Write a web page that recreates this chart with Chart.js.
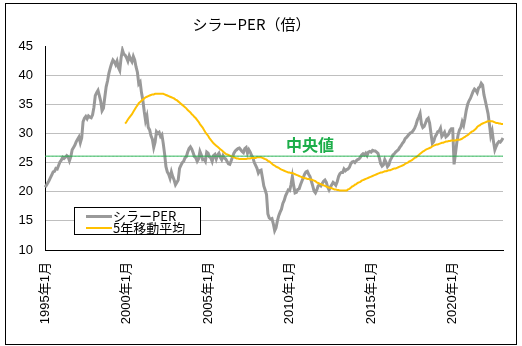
<!DOCTYPE html>
<html>
<head>
<meta charset="utf-8">
<script src="https://cdn.jsdelivr.net/npm/chart.js@4/dist/chart.umd.min.js"></script>
<style>
    html, body { margin: 0; padding: 0; background: #fff; }
    #wrap { position: relative; width: 522px; height: 346px; }
    #frame { position: absolute; left: 5px; top: 3px; width: 512px; height: 342px; box-sizing: border-box; border: 1px solid #000; pointer-events: none; }
    #legend { position: absolute; left: 74px; top: 207px; width: 127px; height: 28px; box-sizing: border-box; border: 1px solid #000; background: #fff; font: 13px 'Noto Sans CJK JP', sans-serif; color: #000; }
    #legend .swatch { position: absolute; left: 11px; width: 26px; }
    #legend .name { position: absolute; left: 38px; line-height: 13px; white-space: nowrap; }
</style>
</head>
<body>
<div id="wrap">
    <canvas id="perChart" width="522" height="346"></canvas>
    <div id="legend"></div>
    <div id="frame"></div>
</div>
<script>
// monthly data, 1995年1月 .. 2023年2月
var startYear = 1995;

var capeValues = [
    20.8, 21.1, 21.5, 21.9, 22.4, 22.9, 23.4, 23.5, 24.0, 23.9, 24.5, 25.1, // 1995
    25.4, 25.9, 25.7, 25.9, 26.2, 26.0, 25.3, 26.0, 27.2, 27.6, 28.0, 28.6, // 1996
    29.0, 29.4, 28.4, 29.2, 32.0, 32.6, 32.9, 32.5, 33.0, 32.8, 32.7, 33.2, // 1997
    34.5, 36.5, 37.0, 37.4, 36.5, 35.5, 33.9, 34.3, 36.2, 38.0, 39.0, 40.3, // 1998
    41.2, 42.0, 42.6, 42.3, 41.8, 42.4, 41.3, 40.8, 43.0, 44.3, 43.6, 43.4, // 1999
    43.0, 42.4, 43.3, 42.7, 42.3, 43.2, 42.6, 41.4, 40.5, 38.5, 38.8, 37.0, // 2000
    35.7, 33.8, 32.2, 33.0, 31.0, 30.6, 29.6, 29.0, 27.6, 28.5, 30.3, 30.0, // 2001
    30.2, 29.5, 29.8, 28.3, 26.5, 24.3, 23.4, 23.0, 22.3, 23.4, 22.6, 22.0, // 2002
    21.2, 21.6, 22.0, 24.0, 24.5, 25.0, 25.2, 25.8, 26.0, 26.8, 27.4, 27.7, // 2003
    27.3, 26.7, 26.0, 25.8, 25.2, 25.6, 26.9, 26.3, 25.5, 25.6, 25.2, 26.8, // 2004
    26.6, 26.0, 25.8, 25.2, 26.2, 26.4, 25.6, 26.3, 26.6, 25.9, 25.5, 26.2, // 2005
    25.8, 25.6, 25.2, 24.8, 24.7, 25.3, 26.0, 26.6, 27.0, 27.2, 27.4, 27.5, // 2006
    27.2, 26.9, 26.7, 27.4, 27.6, 26.6, 27.2, 26.8, 26.2, 25.8, 25.0, 24.5, // 2007
    24.0, 23.2, 23.6, 23.7, 22.4, 21.0, 20.3, 19.5, 16.2, 15.5, 15.3, 15.4, // 2008
    14.5, 13.3, 13.8, 15.0, 15.9, 16.5, 17.0, 18.0, 18.5, 19.3, 19.8, 20.3, // 2009
    20.2, 21.2, 22.6, 21.0, 19.8, 19.9, 20.4, 20.5, 21.2, 21.8, 22.4, 23.0, // 2010
    23.4, 23.5, 23.0, 22.6, 21.8, 21.0, 20.1, 19.8, 20.3, 21.0, 21.2, 21.0, // 2011
    21.4, 21.8, 22.0, 21.6, 20.8, 20.3, 20.8, 21.2, 21.6, 21.4, 21.1, 21.7, // 2012
    22.6, 23.1, 23.3, 23.3, 23.9, 23.6, 23.8, 23.9, 24.2, 24.8, 25.1, 25.2, // 2013
    25.0, 25.3, 25.5, 25.6, 25.9, 26.3, 26.5, 26.3, 26.6, 26.2, 26.8, 26.9, // 2014
    26.8, 27.1, 27.0, 27.0, 26.8, 26.6, 25.8, 24.8, 24.4, 24.6, 25.5, 25.0, // 2015
    24.3, 24.6, 25.4, 25.8, 26.3, 26.5, 26.8, 27.0, 27.2, 27.6, 27.9, 28.3, // 2016
    28.6, 29.1, 29.3, 29.6, 29.9, 30.1, 30.2, 30.5, 30.9, 31.5, 32.3, 32.8, // 2017
    33.4, 31.6, 31.0, 31.2, 31.8, 32.4, 32.6, 31.8, 30.0, 28.3, 28.6, 29.4, // 2018
    29.8, 30.3, 30.4, 30.9, 29.5, 29.8, 30.2, 29.4, 29.6, 29.9, 30.5, 30.8, // 2019
    30.8, 24.7, 26.5, 28.4, 29.8, 30.6, 31.0, 32.0, 31.4, 32.6, 34.0, 35.0, // 2020
    35.6, 36.0, 36.6, 37.2, 37.6, 37.4, 37.0, 37.8, 38.0, 38.6, 38.3, 36.6, // 2021
    35.6, 34.5, 33.4, 31.6, 29.6, 30.4, 28.6, 27.2, 27.8, 28.3, 28.6, 28.5, // 2022
    28.8, 29.2                                                              // 2023
];

// 5年移動平均, first value is 1999年12月 (month index 59)
var maStartIndex = 59;
var maValues = [
    31.7,                                                                   // 1999/12
    32.0, 32.4, 32.7, 33.0, 33.3, 33.7, 34.1, 34.5, 34.8, 35.2, 35.4, 35.6, // 2000
    35.8, 36.0, 36.2, 36.3, 36.4, 36.5, 36.6, 36.7, 36.7, 36.8, 36.8, 36.8, // 2001
    36.8, 36.8, 36.8, 36.8, 36.7, 36.6, 36.5, 36.4, 36.3, 36.2, 36.1, 36.0, // 2002
    35.8, 35.7, 35.5, 35.3, 35.1, 34.9, 34.7, 34.5, 34.3, 34.0, 33.8, 33.6, // 2003
    33.3, 33.1, 32.8, 32.6, 32.3, 32.0, 31.6, 31.3, 31.0, 30.6, 30.2, 29.9, // 2004
    29.6, 29.2, 28.9, 28.6, 28.3, 28.1, 27.9, 27.7, 27.5, 27.3, 27.1, 26.9, // 2005
    26.7, 26.5, 26.4, 26.3, 26.2, 26.1, 26.0, 25.9, 25.8, 25.7, 25.7, 25.6, // 2006
    25.6, 25.6, 25.6, 25.6, 25.6, 25.7, 25.7, 25.7, 25.8, 25.8, 25.8, 25.8, // 2007
    25.9, 25.9, 25.9, 25.9, 25.8, 25.7, 25.6, 25.5, 25.3, 25.2, 25.0, 24.8, // 2008
    24.6, 24.5, 24.3, 24.2, 24.1, 23.9, 23.8, 23.7, 23.6, 23.5, 23.4, 23.3, // 2009
    23.3, 23.2, 23.2, 23.1, 23.0, 22.9, 22.8, 22.7, 22.6, 22.5, 22.4, 22.3, // 2010
    22.3, 22.2, 22.2, 22.1, 22.1, 22.0, 21.9, 21.8, 21.6, 21.5, 21.4, 21.3, // 2011
    21.2, 21.1, 21.0, 20.9, 20.8, 20.7, 20.7, 20.6, 20.5, 20.4, 20.4, 20.3, // 2012
    20.3, 20.2, 20.2, 20.2, 20.2, 20.2, 20.2, 20.4, 20.5, 20.7, 20.9, 21.0, // 2013
    21.2, 21.3, 21.5, 21.6, 21.7, 21.9, 22.0, 22.1, 22.2, 22.3, 22.4, 22.5, // 2014
    22.6, 22.7, 22.8, 22.9, 23.0, 23.1, 23.2, 23.3, 23.3, 23.4, 23.5, 23.5, // 2015
    23.6, 23.7, 23.7, 23.8, 23.9, 24.0, 24.0, 24.1, 24.2, 24.3, 24.4, 24.5, // 2016
    24.6, 24.8, 24.9, 25.0, 25.2, 25.3, 25.4, 25.6, 25.8, 25.9, 26.1, 26.3, // 2017
    26.5, 26.7, 26.9, 27.0, 27.2, 27.3, 27.4, 27.5, 27.6, 27.8, 27.9, 28.0, // 2018
    28.1, 28.1, 28.2, 28.3, 28.4, 28.4, 28.5, 28.6, 28.6, 28.7, 28.7, 28.8, // 2019
    28.8, 28.8, 28.8, 28.9, 28.9, 28.9, 29.0, 29.1, 29.3, 29.4, 29.6, 29.7, // 2020
    29.9, 30.1, 30.3, 30.4, 30.6, 30.8, 31.1, 31.3, 31.4, 31.6, 31.7, 31.8, // 2021
    31.9, 32.0, 32.1, 32.1, 32.1, 32.1, 32.0, 31.9, 31.8, 31.8, 31.7, 31.7, // 2022
    31.6, 31.6                                                              // 2023
];

var medianValue = 26.1;
var medianText = '中央値';
var medianTextIndex = 195;   // month index where the label sits

var seriesNames = ['シラーPER', '5年移動平均'];
var seriesColors = ['#999999', '#FFC000'];
var seriesWidths = [3, 2];
var medianColor = '#1DAE4A';

var yTicks = { min: 10, max: 45, step: 5 };
var tickEvery = 60;   // one label each 5 years

var fontFamily = "'Liberation Sans', 'Noto Sans CJK JP', sans-serif";
var cjkFont = "'Noto Sans CJK JP', sans-serif";

// category labels
var monthLabels = [];
for (var i = 0; i < capeValues.length; i++) {
    monthLabels.push((startYear + Math.floor(i / 12)) + '年' + (i % 12 + 1) + '月');
}

var maSeries = monthLabels.map(function (lbl, idx) {
    return idx >= maStartIndex ? maValues[idx - maStartIndex] : null;
});
var medianSeries = monthLabels.map(function () { return medianValue; });

// text above the median line
var medianLabelPlugin = {
    id: 'medianLabel',
    afterDatasetsDraw: function (chart) {
        var c = chart.ctx;
        var x = chart.scales.x.getPixelForValue(medianTextIndex);
        var y = chart.scales.y.getPixelForValue(medianValue);
        c.save();
        c.font = 'bold 16px ' + cjkFont;
        c.fillStyle = medianColor;
        c.textAlign = 'center';
        c.textBaseline = 'middle';
        c.fillText(medianText, x, y - 11);
        c.restore();
    }
};

// html legend box, as in the spreadsheet chart
function buildLegend() {
    var box = document.getElementById('legend');
    var swatchTops = [7, 19];
    var textTops = [1, 13];
    for (var k = 0; k < seriesNames.length; k++) {
        var sw = document.createElement('div');
        sw.className = 'swatch';
        sw.style.top = swatchTops[k] + 'px';
        sw.style.height = seriesWidths[k] + 'px';
        sw.style.background = seriesColors[k];
        box.appendChild(sw);

        var nm = document.createElement('div');
        nm.className = 'name';
        nm.style.top = textTops[k] + 'px';
        nm.textContent = seriesNames[k];
        box.appendChild(nm);
    }
}

var ctx = document.getElementById('perChart').getContext('2d');

var perChart = new Chart(ctx, {
    type: 'line',
    data: {
        labels: monthLabels,
        datasets: [
            {
                label: seriesNames[0],
                data: capeValues,
                borderColor: seriesColors[0],
                borderWidth: seriesWidths[0],
                pointRadius: 0,
                tension: 0,
                order: 3
            },
            {
                label: seriesNames[1],
                data: maSeries,
                borderColor: seriesColors[1],
                borderWidth: seriesWidths[1],
                pointRadius: 0,
                tension: 0,
                order: 2
            },
            {
                label: medianText,
                data: medianSeries,
                borderColor: medianColor,
                borderWidth: 1,
                pointRadius: 0,
                order: 1
            }
        ]
    },
    options: {
        responsive: false,
        animation: false,
        devicePixelRatio: 1,
        layout: { padding: { left: 0, right: 19, top: 3, bottom: 0 } },
        font: { family: fontFamily },
        plugins: {
            legend: { display: false },
            tooltip: { enabled: false },
            title: {
                display: true,
                text: 'シラーPER（倍）',
                color: '#000',
                font: { size: 15, weight: 'normal', family: cjkFont },
                padding: { top: 12, bottom: 13 }
            }
        },
        scales: {
            x: {
                grid: { display: false, drawTicks: false },
                border: { display: true, color: '#000', width: 1 },
                ticks: {
                    autoSkip: false,
                    minRotation: 90,
                    maxRotation: 90,
                    padding: 12,
                    color: '#000',
                    font: { size: 13, family: fontFamily },
                    callback: function (value, index) {
                        return index % tickEvery === 0 ? this.getLabelForValue(value) : null;
                    }
                },
                afterFit: function (scale) { scale.height = 96; }
            },
            y: {
                min: yTicks.min,
                max: yTicks.max,
                ticks: {
                    stepSize: yTicks.step,
                    padding: 12,
                    color: '#000',
                    font: { size: 13, family: fontFamily }
                },
                grid: {
                    drawTicks: false,
                    color: function (c) {
                        return (c.tick && c.tick.value === yTicks.max) ? 'rgba(0,0,0,0)' : '#BFBFBF';
                    }
                },
                border: { display: true, color: '#000', width: 1 },
                afterFit: function (scale) { scale.width = 45; }
            }
        }
    },
    plugins: [medianLabelPlugin]
});

buildLegend();
</script>
</body>
</html>
